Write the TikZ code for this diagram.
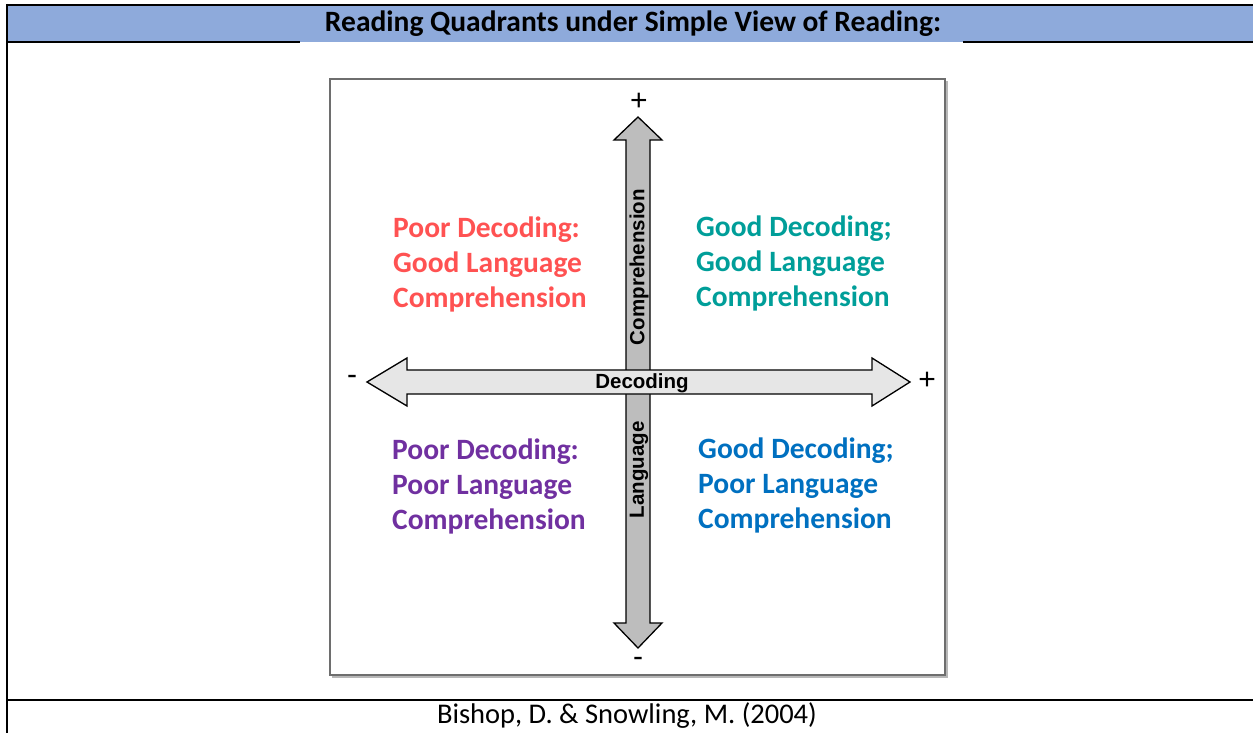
\documentclass[tikz,border=0pt]{standalone}
\usepackage{fontspec}
\setmainfont{Carlito}
\newfontfamily\arialf{Liberation Sans}
\definecolor{hdrblue}{HTML}{8EAADB}
\definecolor{qred}{HTML}{FF5252}
\definecolor{qteal}{HTML}{009E99}
\definecolor{qpurple}{HTML}{7030A0}
\definecolor{qblue}{HTML}{0070C0}
\definecolor{boxgray}{HTML}{6E6E6E}
\definecolor{vfill}{HTML}{BDBDBD}
\definecolor{hfill}{HTML}{E6E6E6}
\tikzset{
  tblline/.style={line width=2pt, black},
  quad/.style={font=\fontsize{29.5}{35}\selectfont\bfseries, align=left, anchor=west, inner sep=0pt},
  axislabel/.style={font=\arialf\bfseries\fontsize{20.5}{20.5}\selectfont, inner sep=0pt},
  signlabel/.style={font=\arialf\fontsize{30}{30}\selectfont, inner sep=0pt},
  arrowshape/.style={draw=black, line width=1.3pt, line join=miter}
}
\begin{document}
\begin{tikzpicture}[x=1pt,y=-1pt]
\useasboundingbox (0,0) rectangle (1253,733);
% header band
\fill[hdrblue] (7,5) rectangle (1253,42);
\draw[tblline] (6,5) -- (1253,5);
\draw[tblline] (7,4) -- (7,733);
\draw[tblline] (7,42) -- (300,42);
\draw[tblline] (963,42) -- (1253,42);
\draw[tblline] (7,700) -- (1253,700);
\node[font=\fontsize{29.5}{29.5}\selectfont\bfseries, inner sep=0pt] (title) at (633,24) {Reading Quadrants under Simple View of Reading:};
\node[font=\fontsize{28.5}{28.5}\selectfont, inner sep=0pt] (source) at (627,716) {Bishop, D. \& Snowling, M. (2004)};
% inner box
\draw[boxgray!50, line width=2pt] (332,677) -- (947,677) -- (947,81);
\draw[boxgray, line width=2.5pt] (330,79) rectangle (945,675);
% vertical arrow
\draw[arrowshape, fill=vfill] (638,117) -- (662,140) -- (650,140) -- (650,623) -- (662,623) -- (638,648) -- (614,623) -- (626,623) -- (626,140) -- (614,140) -- cycle;
% horizontal arrow
\draw[arrowshape, fill=hfill] (367,382) -- (407,358) -- (407,370) -- (872,370) -- (872,358) -- (910,382) -- (872,406) -- (872,394) -- (407,394) -- (407,406) -- cycle;
% axis labels
\node[axislabel, rotate=90] (comp) at (639,267) {Comprehension};
\node[axislabel, rotate=90] (lang) at (639,470) {Language};
\node[axislabel] (dec) at (642,383) {Decoding};
\node[signlabel] (ptop) at (639,102) {+};
\node[signlabel] (mbot) at (638,662) {-};
\node[signlabel] (mleft) at (352,380) {-};
\node[signlabel] (pright) at (927,381) {+};
% quadrant texts
\node[quad, text=qred] (tl) at (393,264) {Poor Decoding:\\Good Language\\Comprehension};
\node[quad, text=qteal] (tr) at (696,263) {Good Decoding;\\Good Language\\Comprehension};
\node[quad, text=qpurple] (bl) at (392,486) {Poor Decoding:\\Poor Language\\Comprehension};
\node[quad, text=qblue] (br) at (698,485) {Good Decoding;\\Poor Language\\Comprehension};
\end{tikzpicture}
\end{document}
